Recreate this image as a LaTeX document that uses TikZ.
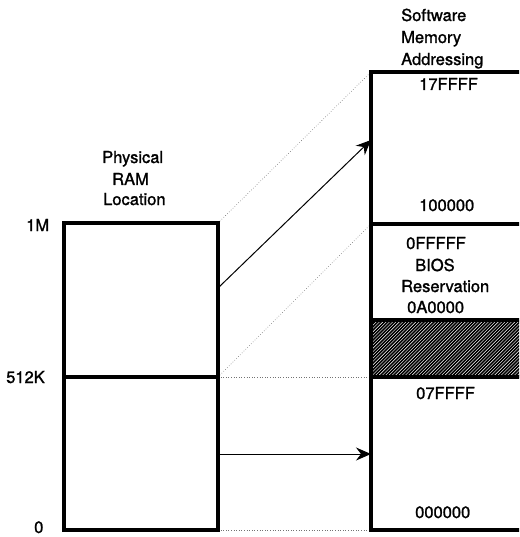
\documentclass[tikz,border=0pt]{standalone}
\usepackage{fontspec}
\setmainfont{TeX Gyre Heros}
\newfontfamily\heavyfont{TeX Gyre Heros}[FakeBold=1.3]
\usetikzlibrary{arrows.meta}
\begin{document}
\begin{tikzpicture}[x=1pt,y=-1pt,
  lbl/.style={inner sep=0pt,anchor=base west,font=\heavyfont\fontsize{16.5}{20}\selectfont},
  frame/.style={line width=3.2pt,line join=miter,line cap=rect},
  guide/.style={draw=black!55,line width=0.6pt,dotted},
  maparrow/.style={line width=1pt,-{Stealth[length=15pt,width=13pt,inset=5pt]}}]
\useasboundingbox (0,0) rectangle (519,537);
\clip (0,0) rectangle (519,537);
% named corner coordinates
\coordinate (L1M) at (64,223);
\coordinate (R1M) at (218,223);
\coordinate (L512) at (64,377);
\coordinate (R512) at (218,377);
\coordinate (L0) at (64,530);
\coordinate (R0) at (218,530);
\coordinate (S17) at (371,72);
\coordinate (S10) at (371,224);
\coordinate (SA0) at (371,320);
\coordinate (S07) at (371,377);
\coordinate (S00) at (371,530);
\coordinate (RAMhi) at (218,288);
\coordinate (SWhi) at (371,140);
\coordinate (RAMlo) at (218,454);
\coordinate (SWlo) at (371,454);
% hatched BIOS reservation
\begin{scope}
  \clip (371,320) rectangle (530,377);
  \foreach \i in {0,...,75}{
    \draw[line width=1.6pt] (\i*3.3+290,390) -- ++(90,-90);
  }
\end{scope}
% dotted guides
\draw[guide] (R1M) -- (S17);
\draw[guide] (R512) -- (S10);
\draw[guide] (R512) -- (S07);
\draw[guide] (R0) -- (S00);
% physical RAM box
\draw[frame] (L1M) rectangle (R0);
\draw[frame] (L512) -- (R512);
% software address box
\draw[frame] (530,72) -- (S17) -- (S00) -- (530,530);
\draw[frame] (S10) -- (530,224);
\draw[frame] (SA0) -- (530,320);
\draw[frame] (S07) -- (530,377);
% mapping arrows
\draw[maparrow] (RAMhi) -- (SWhi);
\draw[maparrow] (RAMlo) -- (SWlo);
% labels
\node[lbl] (tphys) at (102,163) {Physical};
\node[lbl] (tram) at (112,185) {RAM};
\node[lbl] (tloc) at (103,205) {Location};
\node[lbl] (t1m) at (26,231) {1M};
\node[lbl] (t512) at (6,383) {512K};
\node[lbl] (t0) at (34,533) {0};
\node[lbl] (tsw) at (401,21) {Software};
\node[lbl] (tmem) at (401,43) {Memory};
\node[lbl] (tadr) at (401,65) {Addressing};
\node[lbl] (t17) at (419,90) {17FFFF};
\node[lbl] (t100) at (419,211) {100000};
\node[lbl] (t0ff) at (406,249) {0FFFFF};
\node[lbl] (tbios) at (415,271) {BIOS};
\node[lbl] (tres) at (401,292) {Reservation};
\node[lbl] (ta0) at (407,313) {0A0000};
\node[lbl] (t07) at (416,399) {07FFFF};
\node[lbl] (t000) at (415,518) {000000};
\end{tikzpicture}
\end{document}
